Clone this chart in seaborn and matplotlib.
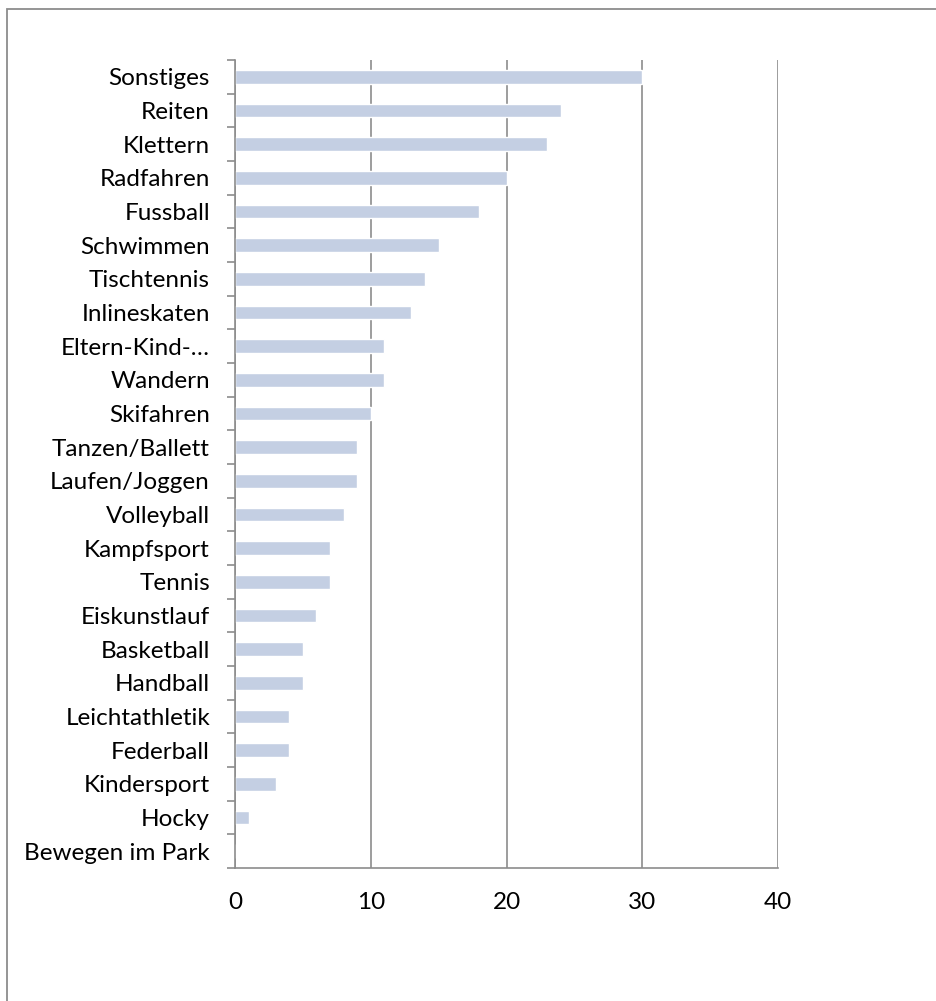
import matplotlib
matplotlib.use("Agg")
import matplotlib.pyplot as plt
import seaborn as sns
import pandas as pd
import numpy as np
from matplotlib.patches import Rectangle

categories = ["Sonstiges", "Reiten", "Klettern", "Radfahren", "Fussball", "Schwimmen",
              "Tischtennis", "Inlineskaten", "Eltern-Kind-…", "Wandern", "Skifahren",
              "Tanzen/Ballett", "Laufen/Joggen", "Volleyball", "Kampfsport", "Tennis",
              "Eiskunstlauf", "Basketball", "Handball", "Leichtathletik", "Federball",
              "Kindersport", "Hocky", "Bewegen im Park"]
values = [30, 24, 23, 20, 18, 15, 14, 13, 11, 11, 10, 9, 9, 8, 7, 7, 6, 5, 5, 4, 4, 3, 1, 0]
xticks = [0, 10, 20, 30, 40]

sns.set_theme(style="white")
plt.rcParams['font.family'] = ['Lato', 'DejaVu Sans']

df = pd.DataFrame({"cat": categories, "val": values})

fig = plt.figure(figsize=(9.36, 10.01), dpi=100)
ax = fig.add_axes([235/936, 1 - 868/1001, 543/936, 808/1001])

sns.barplot(data=df, y="cat", x="val", order=categories, orient="h",
            color="#c4cfe3", saturation=1, width=0.4, ax=ax)

ax.set_xlim(0, 40)
ax.set_ylim(len(categories) - 0.5, -0.5)
ax.set_xticks(xticks)
ax.set_xticklabels([str(t) for t in xticks], fontsize=17.5)
ax.set_xlabel("")
ax.set_ylabel("")
ax.tick_params(axis="x", length=7, width=1.2, color="#8c8c8c", pad=10, labelcolor="black")
ax.tick_params(axis="y", which="major", length=0, pad=18, labelsize=17.5, labelcolor="black")
ax.set_yticks(np.arange(-0.5, len(categories), 1.0), minor=True)
ax.tick_params(axis="y", which="minor", length=6, width=1.2, color="#8c8c8c", left=True)

ax.xaxis.grid(True, color="#8c8c8c", linewidth=1.2)
ax.yaxis.grid(False)
ax.set_axisbelow(True)
for s in ["top", "right"]:
    ax.spines[s].set_visible(False)
for s in ["left", "bottom"]:
    ax.spines[s].set_color("#8c8c8c")
    ax.spines[s].set_linewidth(1.2)

fig.patches.append(Rectangle((7/936, -0.1), 1.2, 1 - 9/1001 + 0.1, transform=fig.transFigure,
                             fill=False, edgecolor="#8c8c8c", linewidth=1.3))

fig.savefig("out.png", dpi=100, facecolor="white")
